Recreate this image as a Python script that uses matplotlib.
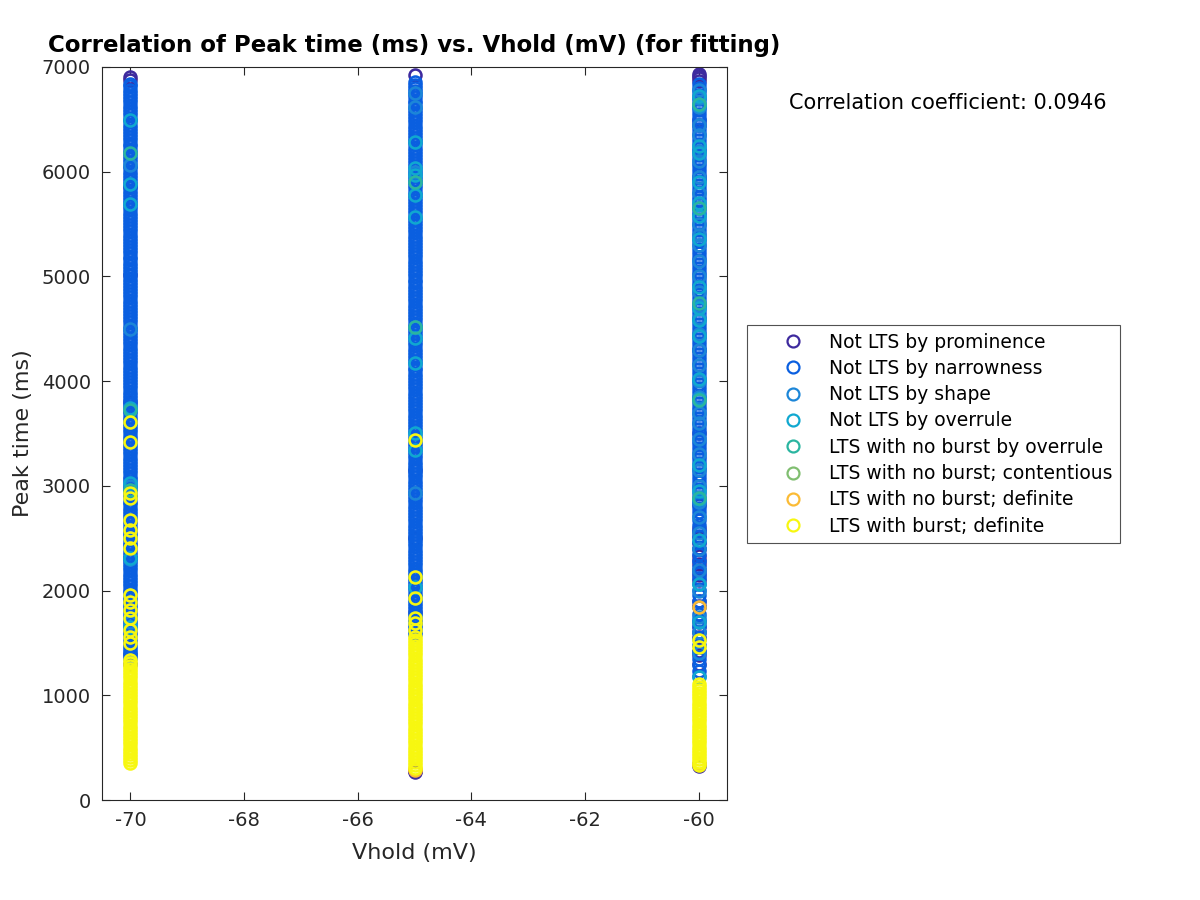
import matplotlib
matplotlib.use("Agg")
import matplotlib.pyplot as plt
from matplotlib.legend_handler import HandlerLine2D
from matplotlib.lines import Line2D

# ---------------- data ----------------
vholds = [-70, -65, -60]
categories = ["Not LTS by prominence", "Not LTS by narrowness", "Not LTS by shape",
              "Not LTS by overrule", "LTS with no burst by overrule",
              "LTS with no burst; contentious", "LTS with no burst; definite",
              "LTS with burst; definite"]
colors = ["#3E2A9E", "#0A5FE0", "#1C86D8", "#10A8D0", "#2AB5A0", "#80BE70", "#FBBB35", "#F7F710"]

prominence_m70 = [6905, 6872, 5850, 5010, 3800, 2310, 1395, 1300]
prominence_m65 = [6925, 3150, 2500, 1800, 280, 265]
prominence_m60 = [6935, 6915, 6895, 6870, 6490, 6450, 5950, 4300, 3500, 2820, 2600, 2560,
                  2510, 2450, 2400, 2330, 2290, 2250, 2200, 2150, 2100, 1900, 1850, 1700,
                  1650, 1600, 1560, 1420, 1380, 1300, 340, 320]

narrow_m70 = [6842, 6815, 6781, 6753, 6718, 6690, 6662, 6629, 6601, 6568, 6540, 6507, 6481,
              6449, 6420, 6388, 6361, 6328, 6300, 6266, 6241, 6209, 6183, 6150, 6118, 6092,
              6059, 6031, 5998, 5972, 5939, 5910, 5879, 5852, 5818, 5791, 5759, 5733, 5699,
              5670, 5642, 5608, 5581, 5549, 5522, 5489, 5460, 5433, 5399, 5371, 5342, 5310,
              5281, 5248, 5222, 5189, 5163, 5129, 5100, 5072, 5040, 5013, 4979, 4951, 4922,
              4889, 4862, 4830, 4803, 4768, 4741, 4712, 4679, 4652, 4620, 4590, 4561, 4529,
              4502, 4470, 4441, 4409, 4382, 4351, 4320, 4291, 4259, 4232, 4200, 4172, 4139,
              4111, 4082, 4050, 4022, 3989, 3962, 3931, 3900, 3871, 3842, 3809, 3781, 3752,
              3719, 3693, 3659, 3630, 3602, 3569, 3542, 3511, 3480, 3452, 3419, 3391, 3362,
              3329, 3302, 3270, 3241, 3209, 3182, 3150, 3122, 3089, 3061, 3032, 2999, 2972,
              2940, 2911, 2882, 2850, 2822, 2789, 2762, 2731, 2700, 2671, 2642, 2609, 2582,
              2551, 2520, 2492, 2459, 2431, 2402, 2369, 2342, 2310, 2282, 2249, 2221, 2192,
              2159, 2131, 2100, 2072, 2041, 2009, 1982, 1951, 1920, 1891, 1862, 1829, 1802,
              1770, 1741, 1712, 1680, 1652, 1619, 1591, 1562, 1529, 1502, 1470, 1441, 1412,
              1380, 1352]
narrow_m65 = [6858, 6829, 6800, 6768, 6741, 6710, 6679, 6652, 6620, 6591, 6560, 6532, 6499,
              6471, 6440, 6411, 6380, 6350, 6321, 6290, 6262, 6230, 6201, 6170, 6141, 6110,
              6082, 6050, 6021, 5990, 5961, 5930, 5902, 5870, 5841, 5810, 5781, 5750, 5722,
              5690, 5661, 5630, 5601, 5570, 5542, 5510, 5481, 5450, 5422, 5390, 5361, 5330,
              5302, 5270, 5241, 5210, 5182, 5150, 5121, 5090, 5062, 5030, 5001, 4970, 4942,
              4910, 4881, 4850, 4822, 4790, 4761, 4730, 4702, 4670, 4641, 4610, 4582, 4550,
              4521, 4490, 4462, 4430, 4401, 4370, 4342, 4310, 4281, 4250, 4222, 4190, 4161,
              4130, 4102, 4070, 4041, 4010, 3982, 3950, 3921, 3890, 3862, 3830, 3801, 3770,
              3742, 3710, 3681, 3650, 3622, 3590, 3561, 3530, 3502, 3470, 3441, 3410, 3382,
              3350, 3321, 3290, 3262, 3230, 3201, 3170, 3142, 3110, 3081, 3050, 3022, 2990,
              2961, 2930, 2902, 2870, 2841, 2810, 2782, 2750, 2721, 2690, 2662, 2630, 2601,
              2570, 2542, 2510, 2481, 2450, 2422, 2390, 2361, 2330, 2302, 2270, 2241, 2210,
              2182, 2150, 2121, 2090, 2062, 2030, 2001, 1970, 1942, 1910, 1881, 1850, 1822,
              1790, 1761, 1730, 1702, 1670, 1641, 1610, 1582]
narrow_m60 = [6838, 6801, 6768, 6730, 6695, 6660, 6622, 6588, 6551, 6517, 6480, 6444, 6409,
              6371, 6338, 6300, 6266, 6229, 6193, 6158, 6121, 6087, 6050, 6014, 5979, 5941,
              5908, 5870, 5836, 5799, 5763, 5728, 5690, 5657, 5619, 5585, 5548, 5512, 5477,
              5439, 5406, 5368, 5334, 5297, 5261, 5226, 5188, 5155, 5117, 5083, 5046, 5010,
              4975, 4937, 4904, 4866, 4832, 4795, 4759, 4724, 4686, 4653, 4615, 4581, 4544,
              4508, 4473, 4435, 4402, 4364, 4330, 4293, 4257, 4222, 4184, 4151, 4113, 4079,
              4042, 4006, 3971, 3933, 3900, 3862, 3828, 3791, 3755, 3720, 3682, 3649, 3611,
              3577, 3540, 3504, 3469, 3431, 3398, 3360, 3326, 3289, 3253, 3218, 3180, 3147,
              3109, 3075, 3038, 3002, 2967, 2929, 2896, 2858, 2824, 2787, 2751, 2716, 2678,
              2630, 2575, 2521, 2466, 2410, 2352, 2280, 2225, 2170, 2118, 2062, 2010, 1958,
              1902, 1840, 1780, 1722, 1660, 1601, 1540, 1480, 1410, 1350, 1290, 1230, 1180]

shape_m70 = [6060, 4500, 3000, 2300, 1700]
shape_m65 = [6752, 6618, 6000, 5900, 4517, 2932]
shape_m60 = [6780, 6700, 6620, 6450, 6350, 6200, 6100, 5950, 5800, 5650, 5500, 5400, 5300,
             5150, 5000, 4850, 4720, 4600, 4450, 4300, 4150, 4000, 3850, 3700, 3600, 3450,
             3300, 3150, 3000, 2850, 2700, 2550, 2400, 2200, 2000, 1750, 1600, 1400]

overrule_m70 = [6494, 5883, 5692, 3744, 3027, 2311, 1650]
overrule_m65 = [6284, 6036, 5969, 5778, 5568, 4412, 4173, 3505, 3343, 2034]
overrule_m60 = [6720, 6640, 6250, 6180, 5900, 5700, 5580, 5360, 4900, 4700, 4580, 4430,
                4020, 3830, 3200, 2950, 2870, 2480, 2060, 1700, 1175]

nob_overrule_m70 = [6180, 3720, 2960]
nob_overrule_m65 = [5902, 4517]
nob_overrule_m60 = [6650, 5650, 4750, 3820, 2880]

nob_contentious_m70 = []
nob_contentious_m65 = []
nob_contentious_m60 = []

nob_definite_m70 = []
nob_definite_m65 = [300, 285]
nob_definite_m60 = [1843, 345]

burst_m70 = [3612, 3418, 2933, 2885, 2675, 2580, 2503, 2408, 1958, 1892, 1815, 1738, 1625,
             1558, 1500, 1338, 1309, 1281, 1250, 1222, 1190, 1161, 1131, 1102, 1070, 1042,
             1011, 980, 951, 922, 890, 861, 832, 801, 770, 742, 711, 682, 650, 621, 592, 560,
             531, 500, 472, 441, 410, 382, 352]
burst_m65 = [3438, 2130, 1929, 1738, 1690, 1624, 1560, 1531, 1500, 1471, 1440, 1411, 1380,
             1350, 1321, 1290, 1262, 1230, 1201, 1170, 1142, 1110, 1081, 1050, 1021, 990, 962,
             930, 901, 870, 842, 810, 781, 750, 722, 690, 661, 630, 602, 570, 541, 510, 482,
             450, 421, 390, 362, 330, 305]
burst_m60 = [1528, 1462, 1112, 1081, 1050, 1021, 990, 961, 930, 902, 870, 841, 810, 782, 750,
             721, 690, 662, 630, 601, 570, 542, 510, 481, 450, 422, 390, 362, 338]

series = [
    [prominence_m70, prominence_m65, prominence_m60],
    [narrow_m70, narrow_m65, narrow_m60],
    [shape_m70, shape_m65, shape_m60],
    [overrule_m70, overrule_m65, overrule_m60],
    [nob_overrule_m70, nob_overrule_m65, nob_overrule_m60],
    [nob_contentious_m70, nob_contentious_m65, nob_contentious_m60],
    [nob_definite_m70, nob_definite_m65, nob_definite_m60],
    [burst_m70, burst_m65, burst_m60],
]
corr_coef = 0.0946

# ---------------- plot ----------------
plt.rcParams['font.family'] = ['DejaVu Sans']
plt.rcParams['axes.unicode_minus'] = False
fig = plt.figure(figsize=(12, 9), dpi=100)
ax = fig.add_axes([0.085, 0.1111, 0.521, 0.8145])

handles = []
for cat, col, per_v in zip(categories, colors, series):
    xs, ys = [], []
    for v, vals in zip(vholds, per_v):
        xs += [v] * len(vals)
        ys += list(vals)
    h, = ax.plot(xs, ys, linestyle='none', marker='o', markersize=8.6,
                 markerfacecolor='none', markeredgecolor=col, markeredgewidth=1.85,
                 label=cat)
    handles.append(h)

ax.set_xlim(-70.5, -59.5)
ax.set_ylim(0, 7000)
ax.set_xticks([-70, -68, -66, -64, -62, -60])
ax.set_yticks(range(0, 7001, 1000))
ax.tick_params(direction='in', top=True, right=True, length=5.5, width=0.8,
               labelsize=14, colors='#262626', pad=8)
for s in ax.spines.values():
    s.set_color('#262626')
    s.set_linewidth(0.8)

ax.set_xlabel('Vhold (mV)', fontsize=16, color='#262626', labelpad=9)
ax.set_ylabel('Peak time (ms)', fontsize=16, color='#262626', labelpad=6)
ax.set_title('Correlation of Peak time (ms) vs. Vhold (mV) (for fitting)',
             fontsize=16.5, fontweight='bold', pad=11)

fig.text(948 / 1200, 1 - 103 / 900, 'Correlation coefficient: %.4f' % corr_coef,
         ha='center', va='center', fontsize=15)

leg = fig.legend(handles=handles, loc='upper left',
                 bbox_to_anchor=(747 / 1200, 1 - 325 / 900), fontsize=13.5,
                 frameon=True, fancybox=False, edgecolor='#262626',
                 handlelength=3.5, handletextpad=0.47, labelspacing=0.39,
                 borderpad=0.4, borderaxespad=0,
                 handler_map={Line2D: HandlerLine2D(xpad=0.6)})
leg.get_frame().set_linewidth(0.8)
for lh in leg.legend_handles:
    lh.set_markeredgewidth(1.6)

fig.savefig('out.png', dpi=100)
